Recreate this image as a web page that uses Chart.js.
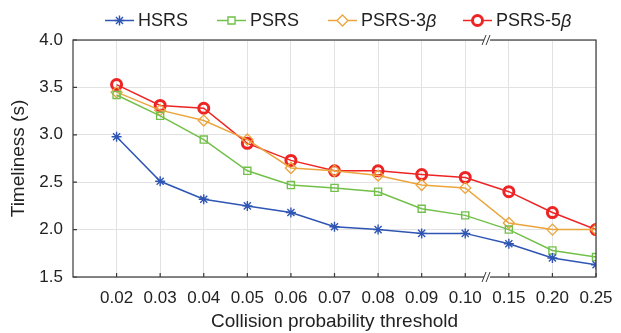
<!DOCTYPE html>
<html>
<head>
<meta charset="utf-8">
<script src="https://cdn.jsdelivr.net/npm/chart.js@4/dist/chart.umd.min.js"></script>
<style>
  html, body { margin: 0; padding: 0; background: #fff; }
  #wrap { width: 621px; height: 333px; position: relative; }
</style>
</head>
<body>
<div id="wrap"><canvas id="c" width="621" height="333"></canvas></div>
<script>
// Collision probability thresholds (x categories; axis is broken between 0.10 and 0.15)
const categories = ['0.02', '0.03', '0.04', '0.05', '0.06', '0.07', '0.08', '0.09', '0.10', '0.15', '0.20', '0.25'];

// Timeliness (s) per scheme
const hsrs  = [2.98, 2.51, 2.32, 2.25, 2.18, 2.03, 2.00, 1.96, 1.96, 1.85, 1.70, 1.63];
const psrs  = [3.42, 3.20, 2.95, 2.62, 2.47, 2.44, 2.40, 2.22, 2.15, 2.00, 1.78, 1.71];
const psrs3 = [3.45, 3.26, 3.15, 2.95, 2.65, 2.62, 2.57, 2.47, 2.44, 2.07, 2.00, 2.00];
const psrs5 = [3.53, 3.31, 3.28, 2.91, 2.73, 2.62, 2.62, 2.58, 2.55, 2.40, 2.18, 2.00];

const yTicks = [1.5, 2.0, 2.5, 3.0, 3.5, 4.0];
const breakAfter = 8; // axis break sits between categories[8] and categories[9]

const FONT = '"Liberation Sans", Arial, sans-serif';
const COLORS = { hsrs: '#2f55b4', psrs: '#72c04a', psrs3: '#eca43c', psrs5: '#ee2424' };

const toPoints = arr => arr.map((v, i) => ({ x: i, y: v }));

const series = [
  { label: 'HSRS',    data: hsrs,  color: COLORS.hsrs,  style: 'star',    radius: 5, bw: 1.4 },
  { label: 'PSRS',    data: psrs,  color: COLORS.psrs,  style: 'rect',    radius: 5, bw: 1.4 },
  { label: 'PSRS-3',  data: psrs3, color: COLORS.psrs3, style: 'rectRot', radius: 5.5, bw: 1.3, beta: true },
  { label: 'PSRS-5',  data: psrs5, color: COLORS.psrs5, style: 'circle',  radius: 5, bw: 3, beta: true }
];

// Legend drawn as line + marker + text, in a row above the plot
const legendPlugin = {
  id: 'lineLegend',
  afterDraw(chart) {
    const ctx = chart.ctx;
    const xs = [105, 217, 328, 463];
    const y = 20.5;
    ctx.save();
    series.forEach((s, i) => {
      const x0 = xs[i];
      ctx.strokeStyle = s.color;
      ctx.lineWidth = 1.5;
      ctx.beginPath();
      ctx.moveTo(x0, y); ctx.lineTo(x0 + 29, y);
      ctx.stroke();
      ctx.fillStyle = '#fff';
      ctx.lineWidth = s.bw;
      Chart.helpers.drawPoint(ctx, { pointStyle: s.style, radius: s.radius, borderWidth: s.bw, rotation: 0 }, x0 + 14.5, y);
      ctx.fillStyle = '#222';
      ctx.font = '18px ' + FONT;
      ctx.textBaseline = 'middle';
      ctx.textAlign = 'left';
      let tx = x0 + 33;
      ctx.fillText(s.label, tx, y + 1);
      if (s.beta) {
        tx += ctx.measureText(s.label).width;
        ctx.font = 'italic 18px ' + FONT;
        ctx.fillText('\u03B2', tx, y + 1);
      }
    });
    ctx.restore();
  }
};

// Box outline, inward ticks and the "//" break marks
const framePlugin = {
  id: 'frame',
  afterDatasetsDraw(chart) {
    const { ctx, chartArea: a, scales: { x, y } } = chart;
    ctx.save();
    ctx.strokeStyle = '#3a3a3a';
    ctx.lineWidth = 1.2;
    ctx.strokeRect(a.left, a.top, a.right - a.left, a.bottom - a.top);
    ctx.beginPath();
    categories.forEach((c, i) => {
      const px = x.getPixelForValue(i);
      ctx.moveTo(px, a.bottom); ctx.lineTo(px, a.bottom - 4);
    });
    yTicks.forEach(v => {
      const py = y.getPixelForValue(v);
      ctx.moveTo(a.left, py); ctx.lineTo(a.left + 4, py);
    });
    ctx.stroke();
    const bx = x.getPixelForValue(breakAfter + 0.5);
    [a.top, a.bottom].forEach(py => {
      ctx.fillStyle = '#fff';
      ctx.fillRect(bx - 3, py - 1.5, 6, 3);
      ctx.beginPath();
      ctx.lineWidth = 1;
      ctx.moveTo(bx - 5, py + 5); ctx.lineTo(bx - 1, py - 5);
      ctx.moveTo(bx - 1, py + 5); ctx.lineTo(bx + 3, py - 5);
      ctx.stroke();
    });
    ctx.restore();
  }
};

new Chart(document.getElementById('c'), {
  type: 'line',
  data: {
    datasets: series.map(s => ({
      label: s.label,
      data: toPoints(s.data),
      borderColor: s.color,
      backgroundColor: 'rgba(0,0,0,0)',
      borderWidth: 1.5,
      pointStyle: s.style,
      pointRadius: s.radius,
      pointBorderWidth: s.bw,
      pointBorderColor: s.color,
      pointBackgroundColor: 'rgba(0,0,0,0)',
      tension: 0
    }))
  },
  options: {
    responsive: false,
    animation: false,
    layout: { padding: { top: 40, right: 25, left: 0, bottom: 0 } },
    plugins: { legend: { display: false }, tooltip: { enabled: false } },
    scales: {
      x: {
        type: 'linear',
        min: -1, max: categories.length - 1,
        afterBuildTicks: sc => { sc.ticks = categories.map((c, i) => ({ value: i })); },
        afterFit: sc => { sc.height = 56; sc.paddingLeft = 0; sc.paddingRight = 0; },
        ticks: {
          callback: v => categories[v] ?? '',
          color: '#222', font: { family: FONT, size: 17 }, padding: 11,
          maxRotation: 0, autoSkip: false
        },
        grid: { color: '#e2e2e2', lineWidth: 1, drawTicks: false },
        border: { display: false },
        title: { display: true, text: 'Collision probability threshold', color: '#222', font: { family: FONT, size: 19 }, padding: { top: 0, bottom: 0 } }
      },
      y: {
        min: 1.5, max: 4.0,
        afterBuildTicks: sc => { sc.ticks = yTicks.map(v => ({ value: v })); },
        afterFit: sc => { sc.width = 73; },
        ticks: {
          callback: v => v.toFixed(1),
          color: '#222', font: { family: FONT, size: 17 }, padding: 10
        },
        grid: { color: '#e2e2e2', lineWidth: 1, drawTicks: false },
        border: { display: false },
        title: { display: true, text: 'Timeliness (s)', color: '#222', font: { family: FONT, size: 19 }, padding: { top: 7, bottom: 0 } }
      }
    }
  },
  plugins: [legendPlugin, framePlugin]
});
</script>
</body>
</html>
